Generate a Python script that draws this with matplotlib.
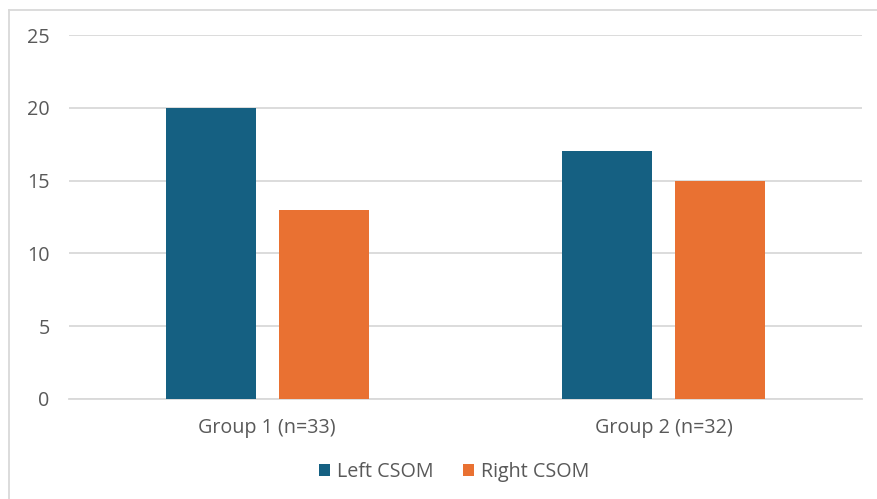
import numpy as np
import matplotlib.pyplot as plt
from matplotlib.lines import Line2D

# Data
groups = ['Group 1 (n=33)', 'Group 2 (n=32)']
left_csom = [20, 17]
right_csom = [13, 15]

plt.rcParams['font.family'] = ['Open Sans', 'DejaVu Sans']
text_color = '#595959'
fs = 14.2

fig = plt.figure(figsize=(8.77, 4.99), dpi=100)
ax = fig.add_axes([69 / 877, 1 - 399 / 499, (862 - 69) / 877, (399 - 35) / 499])

x = np.arange(len(groups))
width = 0.227
gap = 0.058
offset = (width + gap) / 2
ax.bar(x - offset, left_csom, width, color='#156082', label='Left CSOM', zorder=3)
ax.bar(x + offset, right_csom, width, color='#E97132', label='Right CSOM', zorder=3)

ax.set_xlim(-0.5, 1.5)
ax.set_ylim(0, 25)
ax.set_yticks(range(0, 26, 5))
ax.set_xticks(x)
ax.set_xticklabels(groups)
ax.tick_params(axis='y', length=0, pad=14, labelsize=fs, labelcolor=text_color)
ax.tick_params(axis='x', length=0, pad=13.5, labelsize=fs, labelcolor=text_color)
ax.grid(axis='y', color='#D9D9D9', linewidth=1.3, zorder=0)

for side in ['top', 'right', 'left']:
    ax.spines[side].set_visible(False)
ax.spines['bottom'].set_color('#D9D9D9')
ax.spines['bottom'].set_linewidth(1.3)

ax.legend(loc='center', bbox_to_anchor=(454 / 877, 1 - 472 / 499),
          bbox_transform=fig.transFigure, ncol=2, frameon=False,
          handlelength=0.55, handleheight=0.55, handletextpad=0.35,
          columnspacing=1.5, fontsize=fs, labelcolor=text_color)

# chart frame (top and left edges)
fig.add_artist(Line2D([9 / 877, 1], [1 - 10 / 499] * 2, transform=fig.transFigure,
                      color='#D9D9D9', linewidth=1.3))
fig.add_artist(Line2D([9 / 877] * 2, [0, 1 - 10 / 499], transform=fig.transFigure,
                      color='#D9D9D9', linewidth=1.3))

fig.savefig('out.png', dpi=100)
